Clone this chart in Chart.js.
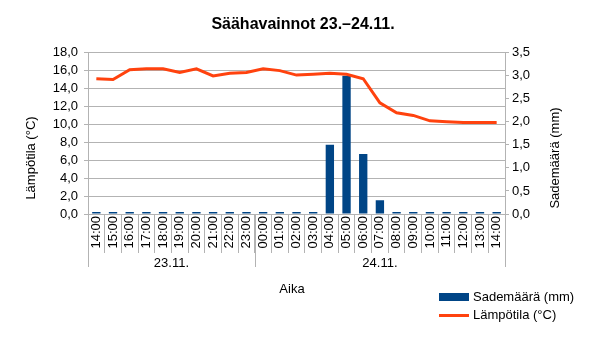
<!DOCTYPE html>
<html>
<head>
<meta charset="utf-8">
<title>Säähavainnot 23.–24.11.</title>
<script src="https://cdn.jsdelivr.net/npm/chart.js@4/dist/chart.umd.min.js"></script>
<style>
  html, body { margin: 0; padding: 0; background: #ffffff; }
  #wrap { width: 606px; height: 340px; }
</style>
</head>
<body>
<div id="wrap"><canvas id="chart" width="606" height="340"></canvas></div>
<script>
// Hourly observations, 23.11. 14:00 – 24.11. 14:00
const hours = [
  '14:00', '15:00', '16:00', '17:00', '18:00', '19:00', '20:00', '21:00', '22:00', '23:00',
  '00:00', '01:00', '02:00', '03:00', '04:00', '05:00', '06:00', '07:00', '08:00', '09:00',
  '10:00', '11:00', '12:00', '13:00', '14:00'
];
const dayLabels = ['23.11.', '24.11.'];
const hoursPerDay = [10, 15];

const precipitation = [
  0, 0, 0, 0, 0, 0, 0, 0, 0, 0,
  0, 0, 0, 0, 1.5, 3.0, 1.3, 0.3, 0, 0,
  0, 0, 0, 0, 0
];
const temperature = [
  15.1, 15.0, 16.1, 16.2, 16.2, 15.8, 16.2, 15.4, 15.7, 15.8,
  16.2, 16.0, 15.5, 15.6, 15.7, 15.6, 15.1, 12.4, 11.3, 11.0,
  10.4, 10.3, 10.2, 10.2, 10.2
];

const tempTicks = { min: 0, max: 18, step: 2 };
const rainTicks = { min: 0, max: 3.5, step: 0.5 };

const FONT = "'Liberation Sans', Arial, sans-serif";
const GRID = '#b3b3b3';
const fmt = v => Number(v).toFixed(1).replace('.', ',');

// Day grouping under the hour labels, axis titles and the legend
const extras = {
  id: 'extras',
  afterDraw(chart) {
    const ctx = chart.ctx;
    const x = chart.scales.x;
    const area = chart.chartArea;
    const half = (x.getPixelForValue(1) - x.getPixelForValue(0)) / 2;
    ctx.save();
    ctx.font = '13px ' + FONT;
    ctx.fillStyle = '#000';
    ctx.strokeStyle = GRID;
    ctx.lineWidth = 1;

    let start = 0;
    const edges = [x.getPixelForValue(0) - half];
    dayLabels.forEach((lab, i) => {
      const end = start + hoursPerDay[i] - 1;
      const l = x.getPixelForValue(start) - half;
      const r = x.getPixelForValue(end) + half;
      edges.push(r);
      ctx.textAlign = 'center';
      ctx.textBaseline = 'middle';
      ctx.fillText(lab, (l + r) / 2, area.bottom + 49);
      start = end + 1;
    });
    edges.forEach(px => {
      const xx = Math.round(px) + 0.5;
      ctx.beginPath();
      ctx.moveTo(xx, area.bottom);
      ctx.lineTo(xx, area.bottom + 53);
      ctx.stroke();
    });

    // axis titles
    ctx.textAlign = 'center';
    ctx.textBaseline = 'middle';
    ctx.fillText('Aika', 292, 289);
    ctx.save();
    ctx.translate(31, 158);
    ctx.rotate(-Math.PI / 2);
    ctx.fillText('Lämpötila (°C)', 0, 0);
    ctx.restore();
    ctx.save();
    ctx.translate(555, 158);
    ctx.rotate(-Math.PI / 2);
    ctx.fillText('Sademäärä (mm)', 0, 0);
    ctx.restore();

    // legend
    const ds = chart.data.datasets;
    ctx.textAlign = 'left';
    ctx.fillStyle = ds[0].backgroundColor;
    ctx.fillRect(439, 293, 30, 8);
    ctx.strokeStyle = ds[1].borderColor;
    ctx.lineWidth = 3;
    ctx.beginPath();
    ctx.moveTo(439, 315.5);
    ctx.lineTo(469, 315.5);
    ctx.stroke();
    ctx.fillStyle = '#000';
    ctx.fillText(ds[0].label, 473, 297.5);
    ctx.fillText(ds[1].label, 473, 315.5);
    ctx.restore();
  }
};

new Chart(document.getElementById('chart'), {
  type: 'bar',
  data: {
    labels: hours,
    datasets: [
      {
        type: 'bar',
        label: 'Sademäärä (mm)',
        data: precipitation,
        yAxisID: 'yRain',
        backgroundColor: '#004586',
        borderWidth: 0,
        barPercentage: 0.5,
        categoryPercentage: 1.0,
        minBarLength: 2,
        order: 2
      },
      {
        type: 'line',
        label: 'Lämpötila (°C)',
        data: temperature,
        yAxisID: 'yTemp',
        borderColor: '#ff420e',
        backgroundColor: '#ff420e',
        borderWidth: 3,
        pointRadius: 0,
        tension: 0,
        order: 1
      }
    ]
  },
  options: {
    responsive: false,
    animation: false,
    devicePixelRatio: 1,
    layout: { padding: 0 },
    plugins: {
      legend: { display: false },
      tooltip: { enabled: false },
      title: {
        display: true,
        text: 'Säähavainnot 23.–24.11.',
        color: '#000',
        font: { family: FONT, size: 16, weight: 'bold', lineHeight: 1.2 },
        padding: { top: 14.5, bottom: 19 }
      }
    },
    scales: {
      x: {
        position: 'bottom',
        offset: true,
        grid: {
          offset: true,
          drawOnChartArea: false,
          color: GRID,
          tickLength: 39,
          tickColor: GRID
        },
        border: { color: GRID },
        ticks: {
          autoSkip: false,
          minRotation: 90,
          maxRotation: 90,
          padding: -37,
          color: '#000',
          font: { family: FONT, size: 13 }
        },
        afterFit(scale) { scale.height = 126; }
      },
      yTemp: {
        position: 'left',
        min: tempTicks.min,
        max: tempTicks.max,
        grid: { color: GRID, tickLength: 4, tickColor: GRID },
        border: { color: GRID },
        ticks: {
          stepSize: tempTicks.step,
          autoSkip: false,
          padding: 6,
          color: '#000',
          font: { family: FONT, size: 13 },
          callback: fmt
        },
        afterFit(scale) { scale.width = 88; }
      },
      yRain: {
        position: 'right',
        min: rainTicks.min,
        max: rainTicks.max,
        grid: { drawOnChartArea: false, color: GRID, tickLength: 4, tickColor: GRID },
        border: { color: GRID },
        ticks: {
          stepSize: rainTicks.step,
          autoSkip: false,
          padding: 3,
          color: '#000',
          font: { family: FONT, size: 13 },
          callback: fmt
        },
        afterFit(scale) { scale.width = 101; }
      }
    }
  },
  plugins: [extras]
});
</script>
</body>
</html>
